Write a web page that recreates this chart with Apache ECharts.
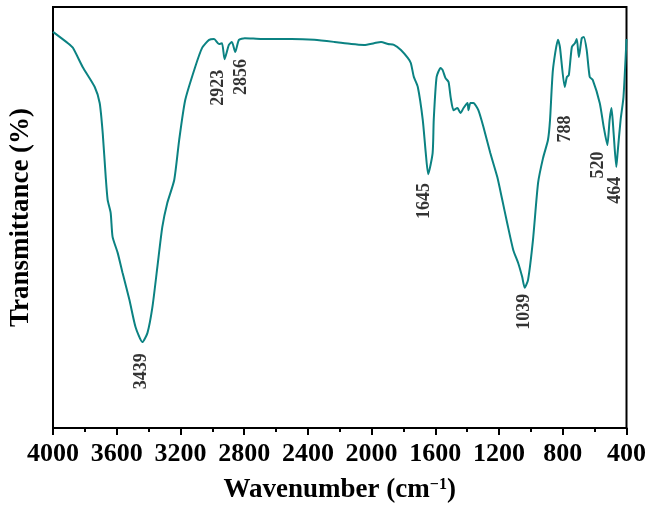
<!DOCTYPE html>
<html>
<head>
<meta charset="utf-8">
<script src="https://cdn.jsdelivr.net/npm/echarts@6/dist/echarts.min.js"></script>
<style>html,body{margin:0;padding:0;background:#fff}#c{width:649px;height:511px}</style>
</head>
<body>
<div id="c"></div>
<script>
// Spectrum: wavenumber (cm-1) and transmittance (arbitrary %)
const wavenumbers = [4000,3906,3875,3813,3738,3707,3688,3669,3657,3638,3626,3594,3563,3520,3482,3439,3407,3376,3345,3314,3283,3239,3208,3170,3108,3064,3020,2989,2958,2939,2923,2896,2877,2856,2833,2796,2690,2503,2359,2234,2128,2047,1985,1941,1897,1860,1816,1773,1754,1735,1710,1679,1660,1645,1617,1610,1592,1567,1554,1536,1517,1504,1486,1461,1442,1423,1398,1392,1380,1361,1330,1298,1255,1211,1180,1149,1111,1080,1055,1039,1018,987,955,924,893,880,862,830,818,788,774,762,743,724,712,699,681,668,650,631,612,568,543,520,506,494,481,464,456,437,419,400];
const transmittance = [94.1,91.4,90.3,85.7,81.0,77.2,70.1,59.6,54.2,51.1,45.4,41.6,36.8,30.4,24.0,20.4,22.6,28.7,38.2,47.7,53.4,58.9,68.4,77.9,85.7,90.3,92.2,92.4,91.2,91.4,87.6,91.0,91.7,89.3,92.2,92.6,92.4,92.4,92.2,91.7,91.2,91.0,91.4,91.7,91.2,91.0,89.8,87.9,86.7,83.4,81.0,73.2,65.3,60.3,65.3,73.2,83.4,85.5,85.0,83.1,82.2,78.6,75.5,76.0,74.8,76.0,77.2,75.5,77.2,77.2,75.5,71.5,65.3,59.6,54.2,48.7,42.3,39.2,35.9,33.3,35.2,44.7,58.2,64.1,68.4,73.2,85.0,92.2,90.5,81.0,83.4,83.8,90.5,91.4,92.4,88.1,92.6,92.9,89.8,83.4,82.7,77.2,71.5,67.2,73.2,76.0,70.1,62.0,65.3,73.2,78.6,92.4];

// Peak annotations: text and anchor (wavenumber, transmittance) of label centre
const peakLabels = ['3439','2923','2856','1645','1039','788','520','464'];
const peakLabelW = [3445,2964,2815,1667,1043,781,575,469];
const peakLabelT = [13.5,80.8,83.4,53.9,27.6,71.0,62.5,56.5];

// X-axis ticks
const xMin = 400, xMax = 4000, xStep = 400;

const chart = echarts.init(document.getElementById('c'));
const serif = '"Liberation Serif","Times New Roman",serif';
chart.setOption({
  animation: false,
  backgroundColor: '#fff',
  grid: {left: 50, right: 22, top: 7, bottom: 83, show: true, borderColor: '#000', borderWidth: 2, backgroundColor: 'transparent'},
  xAxis: {
    type: 'value', inverse: true, min: xMin, max: xMax, interval: xStep,
    name: 'Wavenumber (cm{sup|\u22121})', nameLocation: 'middle', nameGap: 49,
    nameTextStyle: {fontFamily: serif, fontWeight: 'bold', fontSize: 27, color: '#000',
      rich: {sup: {fontFamily: serif, fontWeight: 'bold', fontSize: 16, color: '#000', verticalAlign: 'top', padding: [0,0,10,0]}}},
    axisLine: {show: true, lineStyle: {color: '#000', width: 2}},
    axisTick: {show: true, inside: false, length: 7, lineStyle: {color: '#000', width: 2}},
    minorTick: {show: true, splitNumber: 2, length: 4, lineStyle: {color: '#000', width: 2}},
    axisLabel: {fontFamily: serif, fontWeight: 'bold', fontSize: 26, color: '#000', margin: 13, formatter: v => String(v)},
    splitLine: {show: false}
  },
  yAxis: {
    type: 'value', min: 0, max: 100,
    name: 'Transmittance (%)', nameLocation: 'middle', nameGap: 18,
    nameTextStyle: {fontFamily: serif, fontWeight: 'bold', fontSize: 27, color: '#000'},
    axisLine: {show: true, lineStyle: {color: '#000', width: 2}},
    axisTick: {show: false}, axisLabel: {show: false}, splitLine: {show: false}
  },
  series: [
    {
      type: 'line', showSymbol: false, smooth: 0.2,
      lineStyle: {color: '#0b8282', width: 2}, itemStyle: {color: '#0b8282'},
      data: wavenumbers.map((w, i) => [w, transmittance[i]])
    },
    {
      type: 'scatter', symbolSize: 0, silent: true,
      data: peakLabels.map((t, i) => ({name: t, value: [peakLabelW[i], peakLabelT[i]]})),
      label: {show: true, position: 'inside', rotate: 90, formatter: p => p.name,
        fontFamily: serif, fontWeight: 'bold', fontSize: 18, color: '#000'}
    }
  ]
});
</script>
</body>
</html>
